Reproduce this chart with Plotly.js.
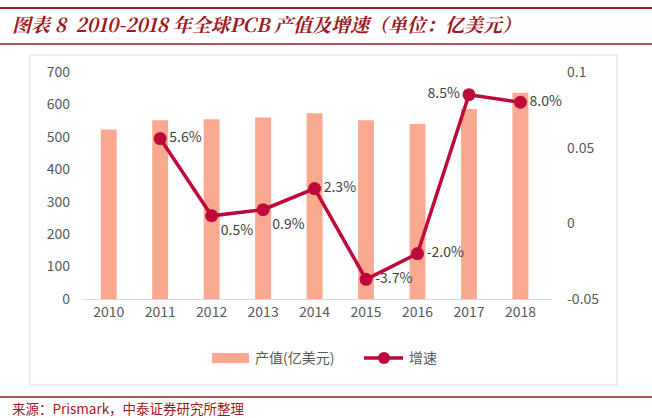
<!DOCTYPE html>
<html><head><meta charset="utf-8">
<script src="https://cdn.plot.ly/plotly-3.0.1.min.js"></script>
<style>html,body{margin:0;padding:0;background:#fff}#c{width:652px;height:418px}</style>
</head><body><div id="c"></div>
<script>
const years = ['2010','2011','2012','2013','2014','2015','2016','2017','2018'];
const output = [523, 551, 554, 560, 573, 551, 540, 586, 636];
const growthYears = ['2011','2012','2013','2014','2015','2016','2017','2018'];
const growth = [0.056, 0.005, 0.009, 0.023, -0.037, -0.020, 0.085, 0.080];
const growthLabels = ['5.6%','0.5%','0.9%','2.3%','-3.7%','-2.0%','8.5%','8.0%'];
const growthPos = ['middle right','bottom right','bottom right','middle right','middle right','middle right','middle left','middle right'];
const leftTicks = [0,100,200,300,400,500,600,700];
const rightTickVals = [-0.05, 0, 0.05, 0.1];
const rightTickText = ['-0.05','0','0.05','0.1'];
const titleText = '图表 8&nbsp;&nbsp;2010-2018 年全球PCB 产值及增速（单位：亿美元）';
const sourceText = '来源：Prismark，中泰证券研究所整理';
const legendBar = '产值(亿美元)';
const legendLine = '增速';

const L = 83, R = 552, T = 72, B = 299;
const W = R - L, H = B - T;
const px = x => (x - L) / W;
const py = y => (B - y) / H;

const barColor = '#F9A98F';
const lineColor = '#BE0A3A';
const darkRed = '#9B1B1F';
const font = '"Noto Sans CJK SC", "Noto Sans", sans-serif';

const traces = [
  {type:'bar', x: years, y: output, marker:{color: barColor}, width:0.31, yaxis:'y', showlegend:false, hoverinfo:'none'},
  {type:'scatter', mode:'lines+markers+text', x: growthYears, y: growth, yaxis:'y2',
   line:{color: lineColor, width:3.5}, marker:{color: lineColor, size:13},
   text: growthLabels, textposition: growthPos, textfont:{size:14, color:'#404040', family: font},
   showlegend:false, hoverinfo:'none', cliponaxis:false}
];

const layout = {
  width:652, height:418,
  margin:{l:L, r:652-R, t:T, b:418-B},
  paper_bgcolor:'#fff', plot_bgcolor:'rgba(0,0,0,0)',
  showlegend:false,
  font:{family: font, color:'#595959', size:14},
  xaxis:{type:'category', showgrid:false, zeroline:false, showline:true, linecolor:'#D9D9D9', linewidth:1,
         ticks:'', tickfont:{size:14, color:'#595959'}, ticklen:0, tickangle:0},
  yaxis:{range:[0,700], tickvals: leftTicks, showgrid:false, zeroline:false, showline:false,
         tickfont:{size:14, color:'#595959'}, ticks:'', ticklabelstandoff:12},
  yaxis2:{overlaying:'y', side:'right', range:[-0.05,0.1], tickvals: rightTickVals, ticktext: rightTickText,
          showgrid:false, zeroline:false, showline:false, tickfont:{size:14, color:'#595959'}, ticks:'', ticklabelstandoff:14},
  shapes:[
    {type:'line', xref:'paper', yref:'paper', x0:px(0), x1:px(652), y0:py(8), y1:py(8), line:{color:darkRed, width:2}},
    {type:'line', xref:'paper', yref:'paper', x0:px(0), x1:px(652), y0:py(44), y1:py(44), line:{color:darkRed, width:1.5}},
    {type:'line', xref:'paper', yref:'paper', x0:px(0), x1:px(652), y0:py(397), y1:py(397), line:{color:darkRed, width:1.5}},
    {type:'rect', xref:'paper', yref:'paper', x0:px(30), x1:px(617), y0:py(55), y1:py(385), line:{color:'#D9D9D9', width:1}, layer:'below'},
    {type:'rect', xref:'paper', yref:'paper', x0:px(212), x1:px(249), y0:py(353), y1:py(363), fillcolor:barColor, line:{width:0}},
    {type:'line', xref:'paper', yref:'paper', x0:px(364), x1:px(403), y0:py(358), y1:py(358), line:{color:lineColor, width:3.5}},
    {type:'circle', xref:'paper', yref:'paper', x0:px(378), x1:px(390), y0:py(352), y1:py(364), fillcolor:lineColor, line:{width:0}}
  ],
  annotations:[
    {xref:'paper', yref:'paper', x:px(10), y:py(23), xanchor:'left', yanchor:'middle', showarrow:false,
     text:'<b><i>'+titleText+'</i></b>', font:{size:19, color:darkRed, family:'"Noto Serif CJK SC", "Noto Sans CJK SC", serif'}},
    {xref:'paper', yref:'paper', x:px(10), y:py(408), xanchor:'left', yanchor:'middle', showarrow:false,
     text: sourceText, font:{size:13.5, color:darkRed, family:'"Noto Sans CJK SC", monospace'}},
    {xref:'paper', yref:'paper', x:px(253), y:py(357), xanchor:'left', yanchor:'middle', showarrow:false,
     text: legendBar, font:{size:14, color:'#595959'}},
    {xref:'paper', yref:'paper', x:px(407), y:py(357), xanchor:'left', yanchor:'middle', showarrow:false,
     text: legendLine, font:{size:14, color:'#595959'}}
  ]
};
Plotly.newPlot('c', traces, layout, {staticPlot:true, displayModeBar:false});
</script></body></html>
